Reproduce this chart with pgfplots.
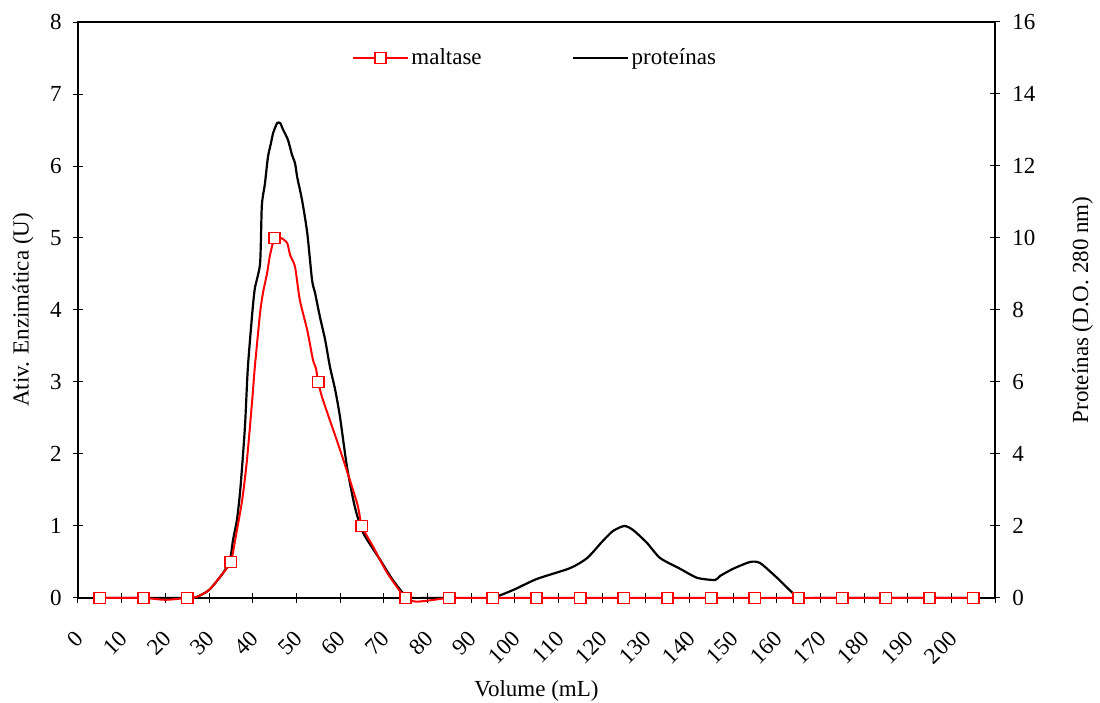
\documentclass[border=0pt]{standalone}
\usepackage{pgfplots}
\pgfplotsset{compat=1.18}
\usepackage{fontspec}
\setmainfont{Liberation Serif}

\pgfplotsset{
  commonaxis/.style={
    scale only axis,
    width=458.5pt, height=288pt,
    xmin=0, xmax=210,
    font=\fontsize{11.5}{13.8}\selectfont,
    /pgf/number format/assume math mode=true,
    tick align=center,
    major tick length=5pt,
    every tick/.style={black, line width=0.5pt},
    axis line style={line width=1pt},
  },
}

\begin{document}
\begin{tikzpicture}
% Proteins (absorbance at 280 nm), right axis
\begin{axis}[commonaxis, name=P,
  axis y line*=right, axis x line=none,
  ymin=0, ymax=16, ytick={0,2,...,16},
  yticklabel style={inner sep=0pt, anchor=west, xshift=6pt},
  ylabel={Proteínas (D.O. 280 nm)},
  ylabel style={at={(axis description cs:1.0954,0.5)}, anchor=center},
]
\addplot[black, line width=1.1pt, smooth, tension=0.4] coordinates {
  (5,0) (15,0) (25,0) (27,0.02) (30,0.22) (33.2,0.69) (34.8,1.06) (35.5,1.61)
  (36.4,2.17) (37.1,2.92) (37.8,4.0) (38.3,4.9) (38.9,6.4) (39.9,7.9)
  (40.5,8.6) (41.7,9.3) (42.1,10.9) (42.8,11.5) (43.5,12.25) (44.2,12.64)
  (44.7,12.92) (45.6,13.19) (46.3,13.19) (47.0,13.0) (48.1,12.72) (49.0,12.31)
  (49.7,12.08) (50.2,11.69) (51.3,11.06) (52.5,10.14) (53.6,8.83) (54.3,8.47)
  (55.4,7.81) (56.6,7.17) (57.7,6.42) (58.9,5.78) (60.0,5.03) (61.6,3.64)
  (63.4,2.53) (65.3,1.81) (69.2,1.06) (72.1,0.5) (75.4,0.03) (80,0) (85,0)
  (94.4,0) (99.6,0.22) (105.1,0.53) (112.7,0.83) (116.6,1.11) (120.0,1.56)
  (122.5,1.86) (125.1,2.0) (127.1,1.89) (130.3,1.53) (133.3,1.11) (137.9,0.81)
  (141.8,0.56) (145.9,0.5) (147.0,0.61) (150.0,0.81) (153.9,1.0) (156.2,0.97)
  (160.1,0.56) (164.9,0.03) (170,0) (180,0) (190,0) (205,0)
};
\end{axis}

% Maltase activity, left axis
\begin{axis}[commonaxis, name=M,
  clip=false,
  tick pos=left,
  ymin=0, ymax=8, ytick={0,1,...,8},
  xtick={0,10,...,210},
  xticklabels={0,10,20,30,40,50,60,70,80,90,100,110,120,130,140,150,160,170,180,190,200,{}},
  xticklabel style={inner sep=0pt, xshift=1pt, yshift=-16pt, rotate=45, anchor=east},
  yticklabel style={inner sep=0pt, anchor=east, xshift=-5.5pt},
  xlabel={Volume (mL)},
  xlabel style={at={(axis description cs:0.5,0)}, anchor=center, yshift=-46.25pt},
  ylabel={Ativ. Enzimática (U)},
  ylabel style={at={(axis description cs:-0.06,0.5)}, anchor=center},
  legend columns=-1,
  legend style={at={(axis description cs:0.2984,0.9375)}, anchor=west,
    draw=none, fill=none, inner sep=0pt, nodes={inner sep=1.2pt},
    /tikz/every even column/.append style={column sep=44pt}},
  legend image code/.code={
    \draw[mark repeat=2, mark phase=2, #1] plot coordinates {(0pt,0pt) (13.75pt,0pt) (27.5pt,0pt)};
  },
]
\addplot[red, line width=1pt, smooth, tension=0.4, forget plot] coordinates {
  (5,0) (15,0) (20,-0.025) (25,0) (27,0.01) (30,0.11) (33,0.33) (35,0.5)
  (36,0.81) (37.6,1.36) (38.7,1.92) (39.9,2.75) (40.5,3.21) (41.7,3.96)
  (42.4,4.25) (43.3,4.51) (43.9,4.74) (44.5,4.9) (45,5.0) (46.5,5.0)
  (47.9,4.93) (48.6,4.76) (49.7,4.6) (50.8,4.14) (52.5,3.72) (53.8,3.31)
  (54.5,3.19) (55,3.0) (56.1,2.75) (60,2.06) (63.9,1.32) (65,1.0)
  (67.6,0.71) (70.8,0.35) (75,0) (77.5,-0.05) (81,-0.03) (85,0) (95,0)
  (105,0) (115,0) (125,0) (135,0) (145,0) (155,0) (165,0) (175,0) (185,0)
  (195,0) (205,0)
};
\addplot[only marks, mark=square*, mark size=2.8pt,
  mark options={draw=red, fill=white, line width=0.8pt}, forget plot] coordinates {
  (5,0) (15,0) (25,0) (35,0.5) (45,5) (55,3) (65,1) (75,0) (85,0) (95,0)
  (105,0) (115,0) (125,0) (135,0) (145,0) (155,0) (165,0) (175,0) (185,0)
  (195,0) (205,0)
};
\addlegendimage{red, line width=1pt, mark=square*, mark size=2.8pt,
  mark options={draw=red, fill=white, line width=0.8pt}}
\addlegendentry{maltase}
\addlegendimage{black, line width=1.1pt}
\addlegendentry{proteínas}
\end{axis}

\pgfresetboundingbox
\path ([xshift=-39pt,yshift=-52.5pt]M.south west) rectangle ([xshift=52.5pt,yshift=11pt]M.north east);
\end{tikzpicture}
\end{document}
